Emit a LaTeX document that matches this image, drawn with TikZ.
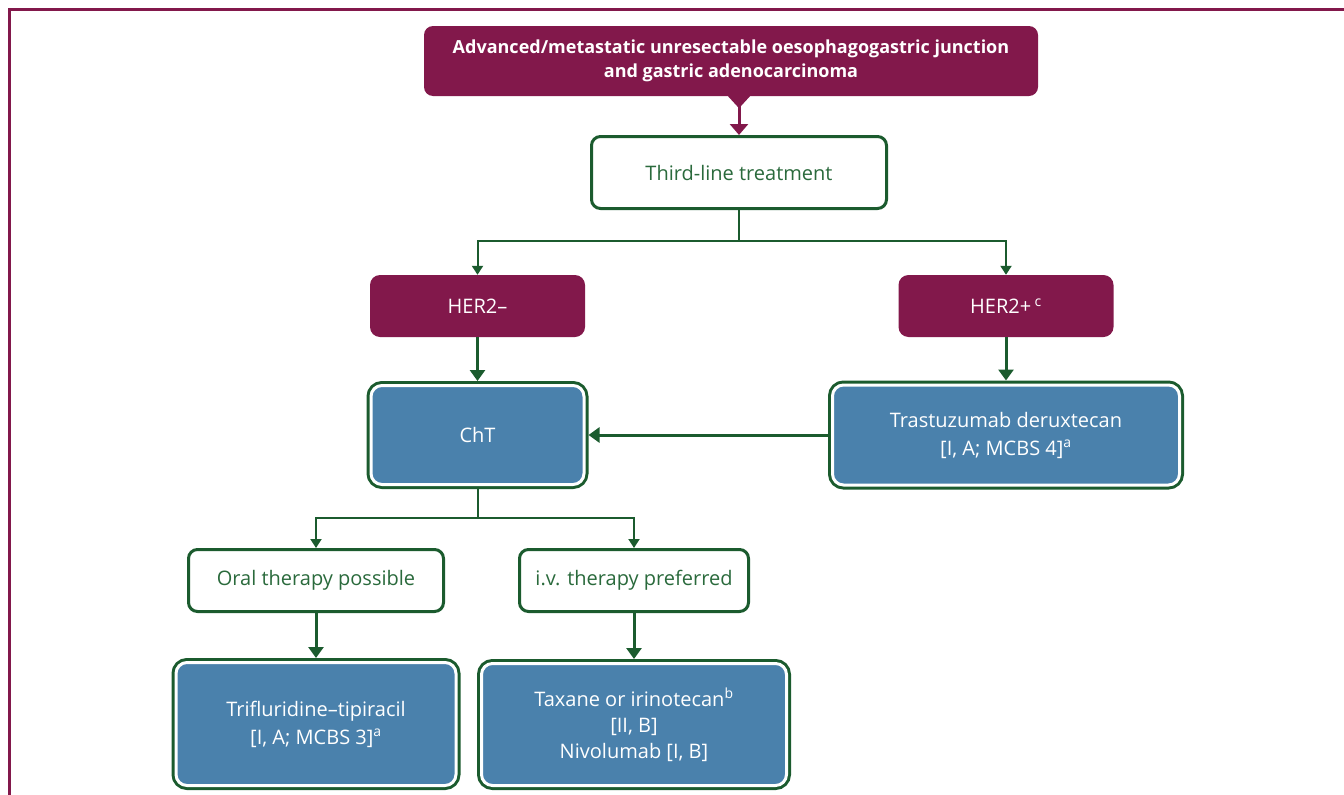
\documentclass[tikz,border=0pt]{standalone}
\usepackage{fontspec}
\setmainfont{Open Sans}
\usetikzlibrary{arrows.meta}
\definecolor{maroon}{HTML}{82184B}
\definecolor{dgreen}{HTML}{1B5B2E}
\definecolor{tgreen}{HTML}{2A6A3C}
\definecolor{sblue}{HTML}{4A81AC}
\tikzset{
  titlebox/.style={fill=maroon, rounded corners=9, text=white, align=center, inner sep=0,
    font=\bfseries\fontsize{18}{24}\selectfont, minimum width=614, minimum height=70},
  whitebox/.style={draw=dgreen, line width=3, fill=white, rounded corners=9, text=tgreen,
    align=center, inner sep=0, font=\fontsize{20}{28}\selectfont, minimum height=62},
  herbox/.style={fill=maroon, rounded corners=10, text=white, align=center, inner sep=0,
    font=\fontsize{20}{28}\selectfont, minimum width=215, minimum height=62},
  bluebox/.style={fill=sblue, draw=white, line width=3, preaction={draw=dgreen, line width=9},
    rounded corners=11, text=white, align=center, inner sep=0, outer sep=4.5,
    font=\fontsize{20}{28}\selectfont},
  thin/.style={draw=dgreen, line width=2, -{Triangle[width=11,length=9]}},
  thick/.style={draw=dgreen, line width=3, -{Triangle[width=15,length=11]}},
}
\begin{document}
\begin{tikzpicture}[x=1pt,y=-1pt]
\useasboundingbox (0,0) rectangle (1344,795);
\draw[maroon, line width=3] (9,800) -- (9,9) -- (1350,9);

\node[titlebox] (title) at (731,61) {Advanced/metastatic unresectable oesophagogastric junction\\and gastric adenocarcinoma};
\node[whitebox, minimum width=295, minimum height=72] (third) at (739,172.5) {Third-line treatment};
\node[herbox] (hneg) at (477.5,306) {HER2–};
\node[herbox] (hpos) at (1006,306) {HER2+\,\textsuperscript{c}};
\node[bluebox, minimum width=213, minimum height=99] (cht) at (477.5,435) {ChT};
\node[bluebox, minimum width=347, minimum height=100] (trast) at (1006,435) {Trastuzumab deruxtecan\\{[}I, A; MCBS 4{]}\textsuperscript{a}};
\node[whitebox, minimum width=255] (oral) at (316,580.5) {Oral therapy possible};
\node[whitebox, minimum width=229] (iv) at (634,580.5) {i.v. therapy preferred};
\node[bluebox, minimum width=280, minimum height=123] (trif) at (316,724) {Trifluridine–tipiracil\\{[}I, A; MCBS 3{]}\textsuperscript{a}};
\node[bluebox, minimum width=305, minimum height=122, font=\fontsize{20}{26}\selectfont] (tax) at (634,724.5) {Taxane or irinotecan\textsuperscript{b}\\{[}II, B{]}\\Nivolumab {[}I, B{]}};

% title connector
\coordinate (tb) at (title.south -| third.north);
\fill[maroon] ([xshift=-11]tb) -- ([xshift=11]tb) -- ([yshift=-12]tb) -- cycle;
\draw[maroon, line width=3, -{Triangle[width=18,length=11]}] (tb) -- (third.north);

\draw[thin] (third.south) -- ++(0,31) -| (hneg.north);
\draw[thin] (third.south) -- ++(0,31) -| (hpos.north);
\draw[thick] (hneg.south) -- (cht.north);
\draw[thick] (hpos.south) -- (trast.north);
\draw[thick] (trast.west) -- (cht.east);
\draw[thin] (cht.south) -- ++(0,29) -| (oral.north);
\draw[thin] (cht.south) -- ++(0,29) -| (iv.north);
\draw[thick] (oral.south) -- (trif.north);
\draw[thick] (iv.south) -- (tax.north);
\end{tikzpicture}
\end{document}
